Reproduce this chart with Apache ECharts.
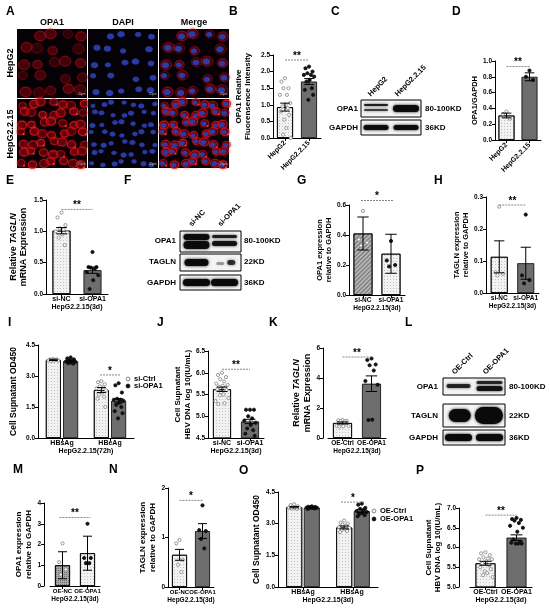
<!DOCTYPE html>
<html>
<head>
<meta charset="utf-8">
<script src="https://cdn.jsdelivr.net/npm/echarts@6/dist/echarts.min.js"></script>
<style>
html, body { margin: 0; padding: 0; background: #fff; }
#chart { width: 550px; height: 608px; }
</style>
</head>
<body>
<div id="chart"></div>
<script>
// ---------- data ----------
// B
const bCats = ['HepG2', 'HepG2.2.15'];
const bMean = [0.93, 1.70];
const bErr = [0.12, 0.09];
const bDotsHepG2 = [1.8, 1.7, 1.5, 1.5, 1.3, 1.3, 1.05, 1.0, 0.95, 0.9, 0.8, 0.7, 0.55, 0.3, 0.1, 0.0];
const bDotsHep215 = [2.15, 2.1, 2.0, 1.95, 1.9, 1.9, 1.85, 1.75, 1.7, 1.5, 1.45, 1.3, 1.15];
// D
const dCats = ['HepG2', 'HepG2.2.15'];
const dMean = [0.31, 0.80];
const dErr = [0.03, 0.05];
const dDotsHepG2 = [0.36, 0.33, 0.27];
const dDotsHep215 = [0.88, 0.80, 0.76];
// E
const eCats = ['si-NC', 'si-OPA1'];
const eMean = [1.01, 0.38];
const eErr = [0.05, 0.05];
const eDotsNC = [1.3, 1.22, 1.1, 1.05, 1.03, 1.0, 0.98, 0.95, 0.9, 0.78];
const eDotsOPA1 = [0.67, 0.43, 0.43, 0.42, 0.4, 0.35, 0.3, 0.22, 0.08];
// G
const gCats = ['si-NC', 'si-OPA1'];
const gMean = [0.41, 0.275];
const gErr = [0.11, 0.13];
const gDotsNC = [0.56, 0.37, 0.35, 0.33];
const gDotsOPA1 = [0.36, 0.23, 0.2, 0.19];
// H
const hCats = ['si-NC', 'si-OPA1'];
const hMean = [0.113, 0.093];
const hErr = [0.05, 0.05];
const hDotsNC = [0.27, 0.065, 0.06, 0.055];
const hDotsOPA1 = [0.245, 0.055, 0.04, 0.03];
// I
const iCats = ['HBsAg', 'HBeAg'];
const iCtrlMean = [3.78, 2.32];
const iCtrlErr = [0.03, 0.12];
const iOpaMean = [3.72, 1.80];
const iOpaErr = [0.04, 0.10];
const iDotsSCtrl = [3.82, 3.8, 3.8, 3.78, 3.77, 3.76, 3.75, 3.74, 3.73];
const iDotsSOpa = [3.9, 3.85, 3.8, 3.78, 3.75, 3.7, 3.68, 3.65, 3.62, 3.6];
const iDotsECtrl = [2.75, 2.7, 2.6, 2.5, 2.45, 2.4, 2.3, 2.2, 2.1, 2.0, 1.9, 1.5];
const iDotsEOpa = [2.65, 2.55, 2.2, 1.9, 1.85, 1.85, 1.8, 1.7, 1.6, 1.5, 1.3, 1.2, 0.95];
// J
const jCats = ['si-NC', 'si-OPA1'];
const jMean = [5.62, 4.88];
const jErr = [0.05, 0.05];
const jDotsNC = [6.0, 5.95, 5.9, 5.85, 5.8, 5.75, 5.72, 5.7, 5.68, 5.65, 5.62, 5.6, 5.55, 5.5, 5.48, 5.42, 5.35, 5.3, 5.28];
const jDotsOPA1 = [5.15, 5.15, 5.15, 5.0, 4.95, 4.9, 4.85, 4.8, 4.72, 4.68, 4.6, 4.55];
// K
const kCats = ['OE-Ctrl', 'OE-OPA1'];
const kMean = [1.0, 3.62];
const kErr = [0.07, 0.52];
const kDotsCtrl = [1.2, 1.18, 1.15, 1.12, 1.1, 0.82, 0.8, 0.78, 0.75];
const kDotsOPA1 = [5.3, 5.2, 4.9, 4.85, 4.5, 3.8, 3.55, 1.22, 1.2];
// M
const mCats = ['OE-NC', 'OE-OPA1'];
const mMean = [1.0, 1.58];
const mErr = [0.65, 0.82];
const mDotsNC = [2.05, 1.15, 0.8, 0.55];
const mDotsOPA1 = [3.0, 1.35, 1.35, 1.1, 1.1];
// N
const nCats = ['OE-NC', 'OE-OPA1'];
const nMean = [0.65, 1.13];
const nErr = [0.11, 0.15];
const nDotsNC = [0.95, 0.88, 0.55, 0.45, 0.3];
const nDotsOPA1 = [1.65, 1.15, 1.13, 0.97, 0.78];
// O
const oCats = ['HBsAg', 'HBsAg '];
const oCtrlMean = [3.78, 2.82];
const oCtrlErr = [0.03, 0.07];
const oOpaMean = [3.76, 3.60];
const oOpaErr = [0.02, 0.08];
const oDotsSCtrl = [3.92, 3.88, 3.82, 3.8, 3.78, 3.76, 3.75, 3.74, 3.72, 3.7];
const oDotsSOpa = [3.82, 3.8, 3.79, 3.78, 3.77, 3.76, 3.75, 3.74, 3.73, 3.72, 3.7];
const oDotsECtrl = [3.15, 3.05, 3.0, 2.95, 2.9, 2.85, 2.8, 2.75, 2.7, 2.65, 2.6];
const oDotsEOpa = [3.95, 3.9, 3.75, 3.7, 3.65, 3.6, 3.55, 3.5, 3.45, 3.4, 3.35];
// P
const pCats = ['OE-Ctrl', 'OE-OPA1'];
const pMean = [5.6, 6.25];
const pErr = [0.05, 0.07];
const pDotsCtrl = [5.88, 5.85, 5.8, 5.75, 5.72, 5.7, 5.7, 5.65, 5.6, 5.55, 5.5, 5.45, 5.4, 5.35, 5.3, 5.25];
const pDotsOPA1 = [6.75, 6.72, 6.7, 6.68, 6.62, 6.55, 6.5, 6.4, 6.2, 6.15, 6.12, 6.1, 6.1, 6.1];

// ---------- styles ----------
const FONT = '"Liberation Sans", Arial, sans-serif';
const LIGHT = {color: '#f2f2f2', decal: {symbol: 'rect', symbolSize: 1, dashArrayX: [1, 2], dashArrayY: [1, 2], color: 'rgba(0,0,0,0.2)'}};
const DARK = {color: '#6e6e6e'};
const HATCH = {color: '#b4b4b4', decal: {symbol: 'rect', symbolSize: 1, rotation: -Math.PI / 4, dashArrayX: [1, 0], dashArrayY: [1, 2], color: 'rgba(70,70,70,0.6)'}};
const CROSS = {color: '#a8a8a8', decal: {symbol: 'rect', symbolSize: 1, dashArrayX: [1, 1], dashArrayY: [1, 1], color: 'rgba(60,60,60,0.55)'}};
const JIT = [0, -0.55, 0.55, -0.25, 0.3, -0.8, 0.8, 0.1, -0.4, 0.45, -0.65, 0.65, -0.1, 0.2, -0.3, 0.9, -0.9, 0.35, -0.5];

let grids = [], xAxes = [], yAxes = [], series = [];

// 散点
function dotItem(off, spread) {
    return function(params, api) {
        const p = api.coord([api.value(0), api.value(1)]);
        const open = api.value(3) === 1;
        const x = p[0] + off + JIT[api.value(2) % JIT.length] * spread;
        return {
            type: 'circle',
            shape: {cx: x, cy: p[1], r: 1.6},
            style: {fill: open ? '#fff' : '#111', stroke: open ? '#8c8c8c' : '#111', lineWidth: 0.9}
        };
    };
}
// 误差线
function errItem(off, cap) {
    return function(params, api) {
        const x = api.coord([api.value(0), api.value(1)])[0] + off;
        const m = api.value(1), e = api.value(2);
        const top = api.coord([api.value(0), m + e])[1];
        const bot = api.coord([api.value(0), m - e])[1];
        const st = {stroke: '#000', lineWidth: 1};
        return {type: 'group', children: [
            {type: 'line', shape: {x1: x, y1: top, x2: x, y2: bot}, style: st},
            {type: 'line', shape: {x1: x - cap, y1: top, x2: x + cap, y2: top}, style: st},
            {type: 'line', shape: {x1: x - cap, y1: bot, x2: x + cap, y2: bot}, style: st}
        ]};
    };
}
// 显著性
function sigItem(s) {
    return function(params, api) {
        const a = api.coord([s.c1, s.y]), b = api.coord([s.c2, s.y]);
        const x1 = a[0] + s.o1, x2 = b[0] + s.o2;
        return {type: 'group', children: [
            {type: 'line', shape: {x1: x1, y1: a[1], x2: x2, y2: a[1]}, style: {stroke: '#888', lineWidth: 1, lineDash: [2, 1]}},
            {type: 'text', style: {text: s.text, x: (x1 + x2) / 2, y: a[1] + 1, align: 'center', verticalAlign: 'bottom', font: 'bold 10px ' + FONT, fill: '#000'}}
        ]};
    };
}

function panel(cfg) {
    const gi = grids.length;
    const xf = cfg.xFont || 7;
    grids.push(cfg.grid);
    xAxes.push({
        gridIndex: gi, type: 'category', data: cfg.cats,
        axisLine: {lineStyle: {color: '#000', width: 1}},
        axisTick: {show: true, alignWithLabel: true, length: 3, lineStyle: {color: '#000'}},
        axisLabel: {color: '#000', fontSize: xf, fontWeight: 'bold', fontFamily: FONT, margin: cfg.rotate ? 4 : 2, rotate: cfg.rotate || 0, interval: 0},
        name: cfg.xName || '', nameLocation: 'middle', nameGap: 10,
        nameTextStyle: {color: '#000', fontSize: cfg.xNameFont || xf, fontWeight: 'bold', fontFamily: FONT}
    });
    yAxes.push({
        gridIndex: gi, type: 'value', min: cfg.min, max: cfg.max, interval: cfg.interval, offset: cfg.offset || 0,
        axisLine: {show: true, lineStyle: {color: '#000', width: 1}},
        axisTick: {show: true, length: 3, lineStyle: {color: '#000'}},
        splitLine: {show: false},
        axisLabel: {color: '#000', fontSize: 6.5, fontWeight: 'bold', fontFamily: FONT, margin: 3,
            formatter: function(v) { return v.toFixed(cfg.dec); }},
        name: cfg.yName, nameLocation: 'middle', nameRotate: 90, nameGap: cfg.yGap,
        nameTextStyle: {color: '#000', fontSize: cfg.yFont, fontWeight: 'bold', fontFamily: FONT, lineHeight: cfg.yFont + 1.5,
            rich: {i: {fontStyle: 'italic', fontWeight: 'bold', fontSize: cfg.yFont, fontFamily: FONT}}}
    });
    const bw = cfg.barWidth, gap = cfg.barGap || 0;
    const n = cfg.groups.length;
    cfg.groups.forEach(function(g, gIdx) {
        const off = n === 1 ? 0 : (gIdx === 0 ? -1 : 1) * (bw + gap * bw) / 2;
        series.push({
            type: 'bar', xAxisIndex: gi, yAxisIndex: gi, barWidth: bw, barGap: (gap * 100) + '%', z: 2,
            data: g.mean.map(function(v, i) {
                return {value: v, itemStyle: Object.assign({borderColor: '#000', borderWidth: 0.8}, g.styles[i])};
            })
        });
        const dotData = [];
        g.dots.forEach(function(arr, i) {
            arr.forEach(function(v, k) { dotData.push([i, v, k, g.open[i]]); });
        });
        series.push({type: 'custom', xAxisIndex: gi, yAxisIndex: gi, z: 3, renderItem: dotItem(off, bw * 0.4), data: dotData});
        series.push({type: 'custom', xAxisIndex: gi, yAxisIndex: gi, z: 4, renderItem: errItem(off, bw * 0.3),
            data: g.mean.map(function(v, i) { return [i, v, g.err[i]]; })});
    });
    if (cfg.sig) {
        series.push({type: 'custom', xAxisIndex: gi, yAxisIndex: gi, z: 5, renderItem: sigItem(cfg.sig), data: [[cfg.sig.c1, cfg.sig.y]]});
    }
}

panel({grid: {left: 273, top: 55, width: 48, height: 83}, cats: bCats, min: 0, max: 2.5, interval: 0.5, dec: 1, rotate: 45,
    yName: 'OPA1 Relative\nFluorensence Intensity', yGap: 20, yFont: 8, barWidth: 16,
    groups: [{mean: bMean, err: bErr, styles: [LIGHT, DARK], dots: [bDotsHepG2, bDotsHep215], open: [1, 0]}],
    sig: {c1: 0, o1: 0, c2: 1, o2: 0, y: 2.35, text: '**'}});
panel({grid: {left: 495, top: 61, width: 46, height: 79}, cats: dCats, min: 0, max: 1.0, interval: 0.2, dec: 1, rotate: 45,
    yName: 'OPA1/GAPDH', yGap: 14, yFont: 7.5, barWidth: 16,
    groups: [{mean: dMean, err: dErr, styles: [LIGHT, DARK], dots: [dDotsHepG2, dDotsHep215], open: [1, 0]}],
    sig: {c1: 0, o1: 0, c2: 1, o2: 0, y: 0.93, text: '**'}});
panel({grid: {left: 46, top: 200, width: 62, height: 94}, cats: eCats, min: 0, max: 1.5, interval: 0.5, dec: 1, xName: 'HepG2.2.15(3d)',
    yName: 'Relative {i|TAGLN}\nmRNA Expression', yGap: 17, yFont: 9, barWidth: 18,
    groups: [{mean: eMean, err: eErr, styles: [LIGHT, DARK], dots: [eDotsNC, eDotsOPA1], open: [1, 0]}],
    sig: {c1: 0, o1: 0, c2: 1, o2: 0, y: 1.35, text: '**'}});
panel({grid: {left: 349, top: 205, width: 56, height: 90}, cats: gCats, min: 0, max: 0.6, interval: 0.2, dec: 1, xName: 'HepG2.2.15(3d)',
    xFont: 6.5, yName: 'OPA1 expression\nrelative to GAPDH', yGap: 16, yFont: 7.5, barWidth: 19,
    groups: [{mean: gMean, err: gErr, styles: [HATCH, LIGHT], dots: [gDotsNC, gDotsOPA1], open: [1, 0]}],
    sig: {c1: 0, o1: -2, c2: 1, o2: 2, y: 0.63, text: '*'}});
panel({grid: {left: 486, top: 197, width: 53, height: 96}, cats: hCats, min: 0, max: 0.3, interval: 0.1, dec: 1, xName: 'HepG2.2.15(3d)',
    xFont: 6.5, yName: 'TAGLN expression\nrelative to GAPDH', yGap: 16, yFont: 7.5, barWidth: 17,
    groups: [{mean: hMean, err: hErr, styles: [LIGHT, DARK], dots: [hDotsNC, hDotsOPA1], open: [1, 0]}],
    sig: {c1: 0, o1: 0, c2: 1, o2: 0, y: 0.275, text: '**'}});
panel({grid: {left: 38, top: 345, width: 96, height: 93}, cats: iCats, min: 0, max: 4.5, interval: 1.5, dec: 1, xName: 'HepG2.2.15(72h)',
    yName: 'Cell Supnatant OD450', yGap: 19, yFont: 8.5, barWidth: 15, barGap: 0.15,
    groups: [
        {mean: iCtrlMean, err: iCtrlErr, styles: [LIGHT, LIGHT], dots: [iDotsSCtrl, iDotsECtrl], open: [1, 1]},
        {mean: iOpaMean, err: iOpaErr, styles: [DARK, DARK], dots: [iDotsSOpa, iDotsEOpa], open: [0, 0]}
    ],
    sig: {c1: 1, o1: -10, c2: 1, o2: 10, y: 3.05, text: '*'}});
panel({grid: {left: 208, top: 351, width: 56, height: 87}, cats: jCats, min: 4.5, max: 6.5, interval: 0.5, dec: 1, xName: 'HepG2.2.15(3d)',
    yName: 'Cell Supnatant\nHBV DNA log 10(IU/mL)', yGap: 15, yFont: 8, barWidth: 18,
    groups: [{mean: jMean, err: jErr, styles: [LIGHT, DARK], dots: [jDotsNC, jDotsOPA1], open: [1, 0]}],
    sig: {c1: 0, o1: 0, c2: 1, o2: 0, y: 6.08, text: '**'}});
panel({grid: {left: 328, top: 348, width: 58, height: 90}, offset: 5, cats: kCats, min: 0, max: 6, interval: 2, dec: 0, xName: 'HepG2.2.15(3d)',
    xFont: 6.5, yName: 'Relative {i|TAGLN}\nmRNA Expression', yGap: 9, yFont: 9, barWidth: 19,
    groups: [{mean: kMean, err: kErr, styles: [LIGHT, DARK], dots: [kDotsCtrl, kDotsOPA1], open: [1, 0]}],
    sig: {c1: 0, o1: 0, c2: 1, o2: 0, y: 5.4, text: '**'}});
panel({grid: {left: 50, top: 503, width: 50, height: 83}, offset: 6, cats: mCats, min: 0, max: 4, interval: 1, dec: 0, xName: 'HepG2.2.15(3d)',
    xFont: 6, xNameFont: 6.5, yName: 'OPA1 expression\nrelative to GAPDH', yGap: 10, yFont: 8, barWidth: 15,
    groups: [{mean: mMean, err: mErr, styles: [CROSS, LIGHT], dots: [mDotsNC, mDotsOPA1], open: [1, 0]}],
    sig: {c1: 0, o1: -3, c2: 1, o2: 3, y: 3.3, text: '**'}});
panel({grid: {left: 168, top: 488, width: 46, height: 99}, cats: nCats, min: 0, max: 2, interval: 1, dec: 0, xName: 'HepG2.2.15(3d)',
    xFont: 6, xNameFont: 6.5, yName: 'TAGLN expression\nrelative to GAPDH', yGap: 8, yFont: 8, barWidth: 15,
    groups: [{mean: nMean, err: nErr, styles: [LIGHT, DARK], dots: [nDotsNC, nDotsOPA1], open: [1, 0]}],
    sig: {c1: 0, o1: 0, c2: 1, o2: 0, y: 1.75, text: '*'}});
panel({grid: {left: 278, top: 492, width: 100, height: 95}, cats: oCats, min: 0, max: 4.5, interval: 1.5, dec: 1, xName: 'HepG2.2.15(3d)',
    yName: 'Cell Supnatant OD450', yGap: 15, yFont: 8.5, barWidth: 16, barGap: 0.1,
    groups: [
        {mean: oCtrlMean, err: oCtrlErr, styles: [LIGHT, LIGHT], dots: [oDotsSCtrl, oDotsECtrl], open: [1, 1]},
        {mean: oOpaMean, err: oOpaErr, styles: [DARK, DARK], dots: [oDotsSOpa, oDotsEOpa], open: [0, 0]}
    ],
    sig: {c1: 1, o1: -12, c2: 1, o2: 12, y: 4.02, text: '*'}});
panel({grid: {left: 470, top: 508, width: 62, height: 79}, offset: 11, cats: pCats, min: 5.0, max: 7.0, interval: 0.5, dec: 1, xName: 'HepG2.2.15(3d)',
    yName: 'Cell Supnatant\nHBV DNA log 10(IU/mL)', yGap: 16, yFont: 8, barWidth: 20,
    groups: [{mean: pMean, err: pErr, styles: [LIGHT, DARK], dots: [pDotsCtrl, pDotsOPA1], open: [1, 0]}],
    sig: {c1: 0, o1: 0, c2: 1, o2: 0, y: 6.82, text: '**'}});

// ---------- graphic (images, blots, labels) ----------
let gfx = [];
function text(x, y, s, size, align, rot) {
    gfx.push({type: 'text', x: x, y: y, rotation: rot || 0, silent: true,
        style: {text: s, fill: '#000', font: 'bold ' + size + 'px ' + FONT, align: align || 'left', verticalAlign: 'middle'}});
}

// 免疫荧光图
function cellImage(x0, y0, w, h, kind, dense) {
    gfx.push({type: 'rect', shape: {x: x0, y: y0, width: w, height: h}, style: {fill: '#050207'}, silent: true});
    const n = dense ? 7 : 5;
    const step = w / n;
    for (let i = 0; i < n; i++) {
        for (let j = 0; j < n; j++) {
            if (!dense && (i * 3 + j * 5) % 7 === 0) continue;
            const cx = x0 + (i + 0.5) * step + 2 * Math.sin(i * 2.3 + j * 1.7);
            const cy = y0 + (j + 0.5) * (h / n) + 2 * Math.cos(i * 1.3 + j * 2.9);
            const r = step * (dense ? 0.27 : 0.24) * (0.85 + 0.25 * Math.abs(Math.sin(i * 4.1 + j)));
            if (kind !== 'blue') {
                const a = dense ? 0.55 + 0.35 * Math.abs(Math.sin(i * 1.9 + j)) : 0.3 + 0.35 * Math.abs(Math.sin(i + j * 2));
                gfx.push({type: 'ellipse', silent: true, shape: {cx: cx + 0.6, cy: cy - 0.4, rx: r * 1.55, ry: r * 1.35},
                    style: {fill: 'rgba(150,10,20,' + (a * 0.45) + ')', stroke: 'rgba(215,25,35,' + a + ')', lineWidth: dense ? 1.1 : 0.8,
                        shadowBlur: 3, shadowColor: 'rgba(200,0,10,0.7)'}});
                if (dense && (i + j) % 3 === 0) {
                    gfx.push({type: 'circle', silent: true, shape: {cx: cx + r * 1.4, cy: cy + r * 0.9, r: 1.1},
                        style: {fill: 'rgba(255,60,60,0.95)'}});
                }
            }
            if (kind !== 'red') {
                gfx.push({type: 'ellipse', silent: true, shape: {cx: cx, cy: cy, rx: r, ry: r * 0.82},
                    style: {fill: 'rgba(45,65,170,0.8)', shadowBlur: 1, shadowColor: 'rgba(40,60,200,0.8)'}});
            }
        }
    }
    gfx.push({type: 'text', x: x0 + w - 9, y: y0 + h - 5, silent: true, style: {text: '20μm', fill: '#bbb', font: '3px ' + FONT}});
}
const imgCols = [17, 88, 159];
const imgRows = [29, 99];
['red', 'blue', 'merge'].forEach(function(k, c) {
    imgRows.forEach(function(y, r) { cellImage(imgCols[c], y, 70, 69, k, r === 1); });
});
text(52, 23, 'OPA1', 9, 'center');
text(123, 23, 'DAPI', 9, 'center');
text(194, 23, 'Merge', 9, 'center');
text(11, 63, 'HepG2', 9, 'center', Math.PI / 2);
text(11, 134, 'HepG2.2.15', 9, 'center', Math.PI / 2);

// 条带
function blot(x, y, w, h, bands) {
    gfx.push({type: 'rect', silent: true, shape: {x: x, y: y, width: w, height: h}, style: {fill: '#f4f4f4', stroke: '#000', lineWidth: 1}});
    bands.forEach(function(b) {
        gfx.push({type: 'rect', silent: true, shape: {x: x + b.cx * w - b.w / 2, y: y + b.y, width: b.w, height: b.h, r: b.h / 2},
            style: {fill: 'rgba(10,10,10,' + b.a + ')', shadowBlur: 3, shadowColor: 'rgba(0,0,0,' + b.a + ')'}});
    });
}
function laneLabel(x, y, s) {
    gfx.push({type: 'text', x: x, y: y, rotation: Math.PI / 4, silent: true,
        style: {text: s, fill: '#000', font: 'bold 7.5px ' + FONT, align: 'left', verticalAlign: 'bottom'}});
}
// C
blot(361, 100, 60, 17, [{cx: .25, y: 4, w: 24, h: 2, a: .85}, {cx: .25, y: 9, w: 24, h: 2, a: .7}, {cx: .75, y: 5, w: 26, h: 7, a: .95}]);
blot(361, 120, 60, 15, [{cx: .25, y: 5, w: 25, h: 5, a: .95}, {cx: .75, y: 5, w: 25, h: 5, a: .95}]);
text(358, 109, 'OPA1', 8, 'right'); text(358, 128, 'GAPDH', 8, 'right');
text(425, 109, '80-100KD', 8); text(425, 128, '36KD', 8);
laneLabel(372, 98, 'HepG2'); laneLabel(399, 98, 'HepG2.2.15');
// F
blot(180, 231, 61, 21, [{cx: .27, y: 3, w: 26, h: 6, a: .95}, {cx: .27, y: 10, w: 26, h: 8, a: .95}, {cx: .73, y: 4, w: 25, h: 3, a: .85}, {cx: .73, y: 10, w: 25, h: 5, a: .9}]);
blot(180, 254, 61, 17, [{cx: .27, y: 5, w: 24, h: 7, a: .95}, {cx: .66, y: 8, w: 8, h: 3, a: .35}, {cx: .84, y: 6, w: 8, h: 5, a: .75}]);
blot(180, 275, 61, 15, [{cx: .27, y: 4, w: 27, h: 7, a: 1}, {cx: .73, y: 4, w: 27, h: 7, a: 1}]);
text(176, 241, 'OPA1', 8, 'right'); text(176, 262, 'TAGLN', 8, 'right'); text(176, 283, 'GAPDH', 8, 'right');
text(244, 241, '80-100KD', 8); text(244, 262, '22KD', 8); text(244, 283, '36KD', 8);
laneLabel(193, 228, 'si-NC'); laneLabel(222, 228, 'si-OPA1');
// L
blot(443, 378, 62, 17, [{cx: .25, y: 6, w: 24, h: 4, a: .8}, {cx: .75, y: 3, w: 26, h: 3, a: .8}, {cx: .75, y: 8, w: 26, h: 5, a: .9}]);
blot(443, 404, 62, 23, [{cx: .27, y: 5, w: 22, h: 13, a: .95}, {cx: .74, y: 3, w: 28, h: 17, a: 1}]);
blot(443, 430, 62, 15, [{cx: .25, y: 4, w: 27, h: 7, a: 1}, {cx: .75, y: 4, w: 27, h: 7, a: 1}]);
text(438, 387, 'OPA1', 8, 'right'); text(438, 416, 'TAGLN', 8, 'right'); text(438, 438, 'GAPDH', 8, 'right');
text(509, 387, '80-100KD', 8); text(509, 416, '22KD', 8); text(509, 438, '36KD', 8);
laneLabel(456, 376, 'OE-Ctrl'); laneLabel(487, 376, 'OE-OPA1');

// 图例
function legendItem(x, y, s, open) {
    gfx.push({type: 'circle', silent: true, shape: {cx: x, cy: y, r: 1.9},
        style: {fill: open ? '#fff' : '#111', stroke: open ? '#777' : '#111', lineWidth: 0.9}});
    text(x + 6, y, s, 7.5);
}
legendItem(128, 379, 'si-Ctrl', true); legendItem(128, 386, 'si-OPA1', false);
legendItem(374, 511, 'OE-Ctrl', true); legendItem(374, 519, 'OE-OPA1', false);

// 字母
[['A', 6, 12], ['B', 229, 12], ['C', 331, 12], ['D', 452, 12],
 ['E', 6, 181], ['F', 124, 181], ['G', 297, 181], ['H', 434, 181],
 ['I', 8, 323], ['J', 157, 323], ['K', 269, 323], ['L', 405, 323],
 ['M', 13, 470], ['N', 109, 470], ['O', 239, 471], ['P', 416, 471]].forEach(function(l) {
    text(l[1], l[2], l[0], 12);
});

let chart = echarts.init(document.getElementById('chart'));
chart.setOption({
    animation: false,
    backgroundColor: '#fff',
    textStyle: {fontFamily: FONT},
    grid: grids,
    xAxis: xAxes,
    yAxis: yAxes,
    series: series,
    graphic: gfx
});
</script>
</body>
</html>
